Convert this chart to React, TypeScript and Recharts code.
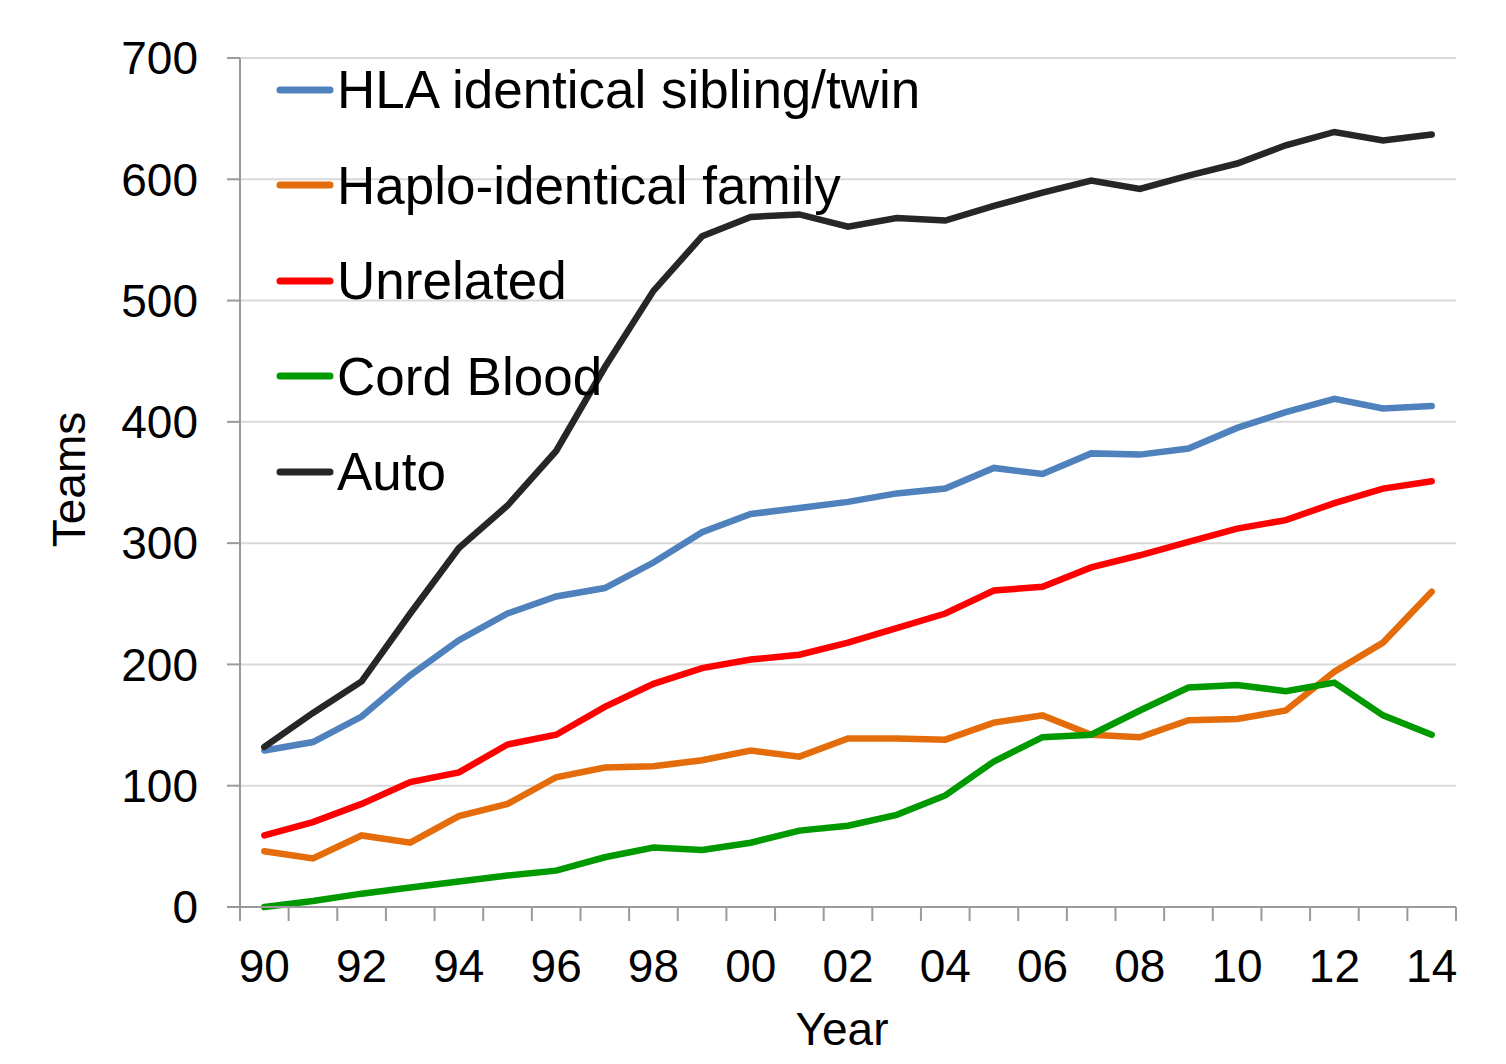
import { LineChart, Line, XAxis, YAxis, CartesianGrid, Legend } from 'recharts';

// Transplant teams per donor type, 1990–2014
const YEARS = ['90', '91', '92', '93', '94', '95', '96', '97', '98', '99', '00', '01', '02',
  '03', '04', '05', '06', '07', '08', '09', '10', '11', '12', '13', '14'];

const HLA =       [129, 136, 157, 191, 220, 242, 256, 263, 284, 309, 324, 329, 334, 341, 345, 362, 357, 374, 373, 378, 395, 408, 419, 411, 413];
const HAPLO =     [46, 40, 59, 53, 75, 85, 107, 115, 116, 121, 129, 124, 139, 139, 138, 152, 158, 142, 140, 154, 155, 162, 194, 218, 260];
const UNRELATED = [59, 70, 85, 103, 111, 134, 142, 165, 184, 197, 204, 208, 218, 230, 242, 261, 264, 280, 290, 301, 312, 319, 333, 345, 351];
const CORD =      [0, 5, 11, 16, 21, 26, 30, 41, 49, 47, 53, 63, 67, 76, 92, 120, 140, 142, 162, 181, 183, 178, 185, 158, 142];
const AUTO =      [132, 160, 186, 242, 296, 331, 376, 445, 508, 553, 569, 571, 561, 568, 566, 578, 589, 599, 592, 603, 613, 628, 639, 632, 637];

const Y_TICKS = [0, 100, 200, 300, 400, 500, 600, 700];

const SERIES = [
  { key: 'hla',       name: 'HLA identical sibling/twin', color: '#4F81BD' },
  { key: 'haplo',     name: 'Haplo-identical family',     color: '#E46C0A' },
  { key: 'unrelated', name: 'Unrelated',                  color: '#FF0000' },
  { key: 'cord',      name: 'Cord Blood',                 color: '#009A00' },
  { key: 'auto',      name: 'Auto',                       color: '#262626' },
];

const data = YEARS.map((year, i) => ({
  year,
  hla: HLA[i],
  haplo: HAPLO[i],
  unrelated: UNRELATED[i],
  cord: CORD[i],
  auto: AUTO[i],
}));

const FONT = '"Liberation Sans", Arial, sans-serif';
const AXIS = '#9A9A9A';
const W = 1490, H = 1050;
const M = { top: 50, right: 42, left: 0, bottom: 0 };
const Y_W = 232, X_H = 151;
const STEP = (W - M.right - Y_W) / YEARS.length; // category band width

// x tick: mark at each band boundary, label on every other year
function YearTick({ x, y, payload, index }: any) {
  return (
    <g>
      <line x1={x - STEP / 2} x2={x - STEP / 2} y1={y} y2={y + 14} stroke={AXIS} strokeWidth={2} />
      {index === YEARS.length - 1 && (
        <line x1={x + STEP / 2} x2={x + STEP / 2} y1={y} y2={y + 14} stroke={AXIS} strokeWidth={2} />
      )}
      {index % 2 === 0 && (
        <text x={x} y={y + 75} textAnchor="middle" fontSize={46} fill="#000" fontFamily={FONT}>
          {payload.value}
        </text>
      )}
    </g>
  );
}

function LegendBox() {
  return (
    <div style={{ fontFamily: FONT }}>
      {SERIES.map(s => (
        <div key={s.key} style={{ display: 'flex', alignItems: 'center', height: 95.5 }}>
          <svg width={58} height={10} style={{ flexShrink: 0 }}>
            <line x1={4} x2={54} y1={5} y2={5} stroke={s.color} strokeWidth={7} strokeLinecap="round" />
          </svg>
          <span style={{ fontSize: 53, color: '#000', marginLeft: 3, whiteSpace: 'nowrap' }}>{s.name}</span>
        </div>
      ))}
    </div>
  );
}

export default function App() {
  return (
    <div style={{ width: W, height: H, fontFamily: FONT, background: '#fff' }}>
      <LineChart width={W} height={H} data={data} margin={M}>
        <CartesianGrid vertical={false} stroke="#D9D9D9" strokeWidth={2} />
        <XAxis dataKey="year" height={X_H} interval={0}
          padding={{ left: STEP / 2, right: STEP / 2 }}
          axisLine={{ stroke: AXIS, strokeWidth: 2 }} tickLine={false}
          tickSize={0} tickMargin={0} tick={<YearTick />}
          label={{
            content: ({ viewBox }: any) => (
              <text x={viewBox.x + viewBox.width / 2 - 6} y={viewBox.y + 138} textAnchor="middle"
                fontSize={46} fill="#000" fontFamily={FONT}>Year</text>
            ),
          }} />
        <YAxis width={Y_W} domain={[0, 700]} ticks={Y_TICKS} interval={0}
          axisLine={{ stroke: AXIS, strokeWidth: 2 }}
          tickLine={{ stroke: AXIS, strokeWidth: 2 }} tickSize={13} tickMargin={29}
          tick={{ fontSize: 46, fill: '#000', fontFamily: FONT }}
          label={{
            content: ({ viewBox }: any) => {
              const lx = viewBox.x + 77;
              const ly = viewBox.y + viewBox.height / 2 - 3;
              return (
                <text x={lx} y={ly} transform={`rotate(-90, ${lx}, ${ly})`} textAnchor="middle"
                  fontSize={46} fill="#000" fontFamily={FONT}>Teams</text>
              );
            },
          }} />
        <Legend layout="vertical" align="center" verticalAlign="middle"
          content={<LegendBox />} wrapperStyle={{ left: 268, top: 34, width: 900, height: 480 }} />
        {SERIES.map(s => (
          <Line key={s.key} type="linear" dataKey={s.key} name={s.name} stroke={s.color}
            strokeWidth={6.5} strokeLinecap="round" dot={false} activeDot={false}
            isAnimationActive={false} />
        ))}
      </LineChart>
    </div>
  );
}
